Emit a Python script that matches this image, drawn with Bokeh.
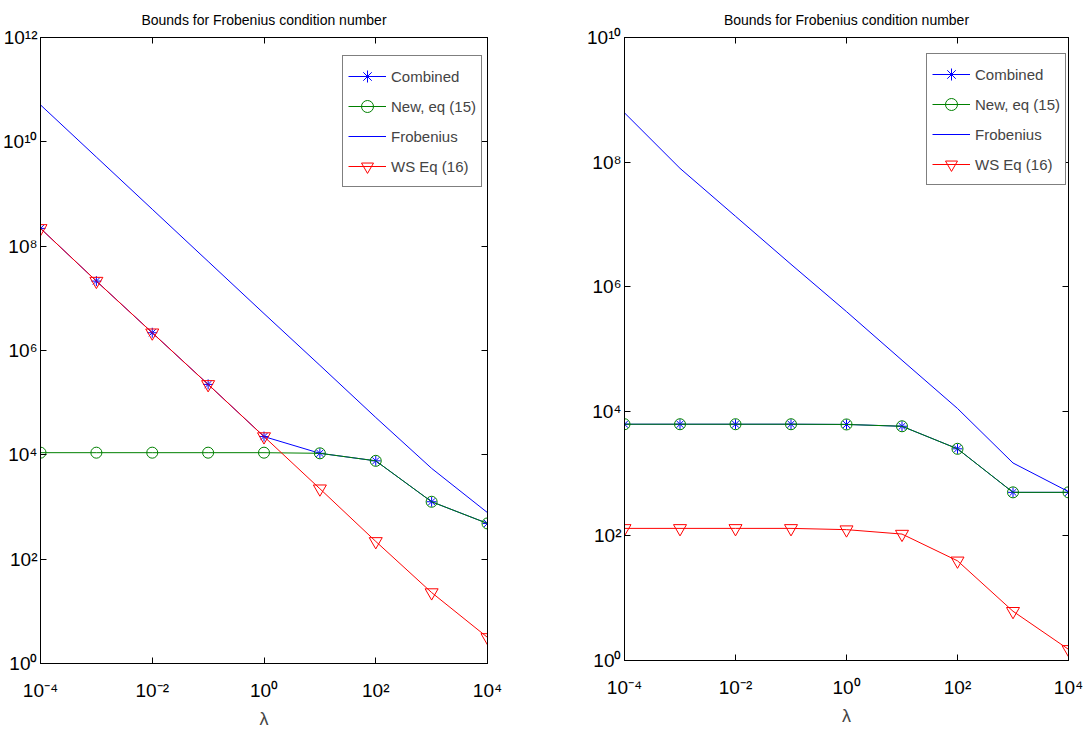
from bokeh.plotting import figure
from bokeh.layouts import row
from bokeh.models import (Range1d, FixedTicker, LogAxis, Legend, LegendItem,
                          CustomJSTickFormatter)
from bokeh.embed import file_html
from bokeh.resources import INLINE

# ---------------- data ----------------
lam = [1e-4, 1e-3, 1e-2, 1e-1, 1e0, 1e1, 1e2, 1e3, 1e4]

# left panel
combined_L = [2.19e8, 2.14e7, 2.19e6, 2.24e5, 2.24e4, 1.07e4, 7.67e3, 1.26e3, 4.84e2]
new_L      = [1.10e4, 1.10e4, 1.10e4, 1.10e4, 1.10e4, 1.07e4, 7.67e3, 1.26e3, 4.84e2]
frob_L     = [5.1e10, 5.1e9, 5.1e8, 5.1e7, 5.1e6, 5.2e5, 5.2e4, 5.5e3, 7.8e2]
ws_L       = [2.19e8, 2.14e7, 2.19e6, 2.24e5, 2.24e4, 2.24e3, 2.19e2, 22.9, 3.16]

# right panel
combined_R = [6.2e3, 6.2e3, 6.2e3, 6.2e3, 6.15e3, 5.75e3, 2.5e3, 5.0e2, 5.0e2]
new_R      = [6.2e3, 6.2e3, 6.2e3, 6.2e3, 6.15e3, 5.75e3, 2.5e3, 5.0e2, 5.0e2]
frob_R     = [6.17e8, 7.94e7, 1.35e7, 2.29e6, 3.98e5, 6.6e4, 1.11e4, 1.48e3, 5.13e2]
ws_R       = [132, 132, 132, 132, 126, 107, 39.8, 6.17, 1.51]

x_ticks = [1e-4, 1e-2, 1e0, 1e2, 1e4]
x_tick_labels = ["10⁻⁴", "10⁻²", "10⁰", "10²", "10⁴"]
yL_ticks = [1e0, 1e2, 1e4, 1e6, 1e8, 1e10, 1e12]
yL_tick_labels = ["10⁰", "10²", "10⁴", "10⁶", "10⁸", "10¹⁰", "10¹²"]
yR_ticks = [1e0, 1e2, 1e4, 1e6, 1e8, 1e10]
yR_tick_labels = ["10⁰", "10²", "10⁴", "10⁶", "10⁸", "10¹⁰"]

title_text = "Bounds for Frobenius condition number"
x_label = "λ"
series_names = ["Combined", "New, eq (15)", "Frobenius", "WS Eq (16)"]

FONT = "Liberation Sans"
BLUE = "#0000FF"
GREEN = "#008000"
RED = "#FF0000"

blank = CustomJSTickFormatter(code="return ''")


def style_axis(ax):
    ax.axis_line_color = "black"
    ax.axis_line_width = 1
    ax.major_tick_in = 6
    ax.major_tick_out = 0
    ax.major_tick_line_color = "black"
    ax.minor_tick_line_color = None
    ax.major_label_text_font = FONT
    ax.major_label_text_font_size = "19px"
    ax.major_label_text_color = "black"


def make_panel(ytop, yticks, ylabels, comb, new, frob, ws,
               frame_w, frame_h, b_left, b_right, b_top, b_bottom, leg_loc):
    p = figure(x_axis_type="log", y_axis_type="log",
               x_range=Range1d(1e-4, 1e4), y_range=Range1d(1, ytop),
               frame_width=frame_w, frame_height=frame_h,
               min_border_left=b_left, min_border_right=b_right,
               min_border_top=b_top, min_border_bottom=b_bottom,
               output_backend="svg", toolbar_location=None,
               title=title_text)
    p.grid.visible = False
    p.outline_line_color = "black"
    p.outline_line_width = 1
    p.background_fill_color = "white"
    p.border_fill_color = "white"

    p.title.align = "center"
    p.title.text_font = FONT
    p.title.text_font_size = "14px"
    p.title.text_font_style = "normal"
    p.title.text_color = "black"
    p.title.standoff = 19

    xa = p.xaxis[0]
    xa.ticker = FixedTicker(ticks=x_ticks)
    xa.major_label_overrides = dict(zip(x_ticks, x_tick_labels))
    style_axis(xa)
    xa.major_label_standoff = 16
    xa.axis_label = x_label
    xa.axis_label_text_font = FONT
    xa.axis_label_text_font_size = "18px"
    xa.axis_label_text_font_style = "normal"
    xa.axis_label_standoff = 5

    ya = p.yaxis[0]
    ya.ticker = FixedTicker(ticks=yticks)
    ya.major_label_overrides = dict(zip(yticks, ylabels))
    style_axis(ya)
    ya.major_label_standoff = 3

    top = LogAxis(ticker=FixedTicker(ticks=x_ticks), formatter=blank)
    style_axis(top)
    top.major_label_standoff = 0
    top.major_label_text_font_size = "1px"
    p.add_layout(top, "above")
    right = LogAxis(ticker=FixedTicker(ticks=yticks), formatter=blank)
    style_axis(right)
    right.major_label_standoff = 0
    right.major_label_text_font_size = "1px"
    p.add_layout(right, "right")

    c_line = p.line(lam, comb, line_color=BLUE, line_width=1)
    c_mark = p.scatter(lam, comb, marker="asterisk", size=10,
                       line_color=BLUE, fill_color=None, line_width=1)
    n_line = p.line(lam, new, line_color=GREEN, line_width=1)
    n_mark = p.scatter(lam, new, marker="circle", size=11,
                       line_color=GREEN, fill_color=None, line_width=1)
    f_line = p.line(lam, frob, line_color=BLUE, line_width=1)
    w_line = p.line(lam, ws, line_color=RED, line_width=1)
    w_mark = p.scatter(lam, ws, marker="inverted_triangle", size=13,
                       line_color=RED, fill_color=None, line_width=1)

    items = [
        LegendItem(label=series_names[0], renderers=[c_line, c_mark]),
        LegendItem(label=series_names[1], renderers=[n_line, n_mark]),
        LegendItem(label=series_names[2], renderers=[f_line]),
        LegendItem(label=series_names[3], renderers=[w_line, w_mark]),
    ]
    leg = Legend(items=items, location=leg_loc, margin=0,
                 padding=5, spacing=0, label_height=30, glyph_height=30,
                 glyph_width=38, label_standoff=5,
                 label_text_font=FONT, label_text_font_size="15px",
                 border_line_color="black", border_line_width=1,
                 background_fill_color="white", background_fill_alpha=1.0)
    p.add_layout(leg)
    return p


pL = make_panel(1e12, yL_ticks, yL_tick_labels, combined_L, new_L, frob_L, ws_L,
                frame_w=447, frame_h=626, b_left=29, b_right=64, b_top=34, b_bottom=60,
                leg_loc=(302, 476))
pR = make_panel(1e10, yR_ticks, yR_tick_labels, combined_R, new_R, frob_R, ws_R,
                frame_w=444, frame_h=623, b_left=73, b_right=15, b_top=37, b_bottom=60,
                leg_loc=(302, 475))

layout = row(pL, pR)
open("out.html", "w").write(file_html(layout, INLINE))
